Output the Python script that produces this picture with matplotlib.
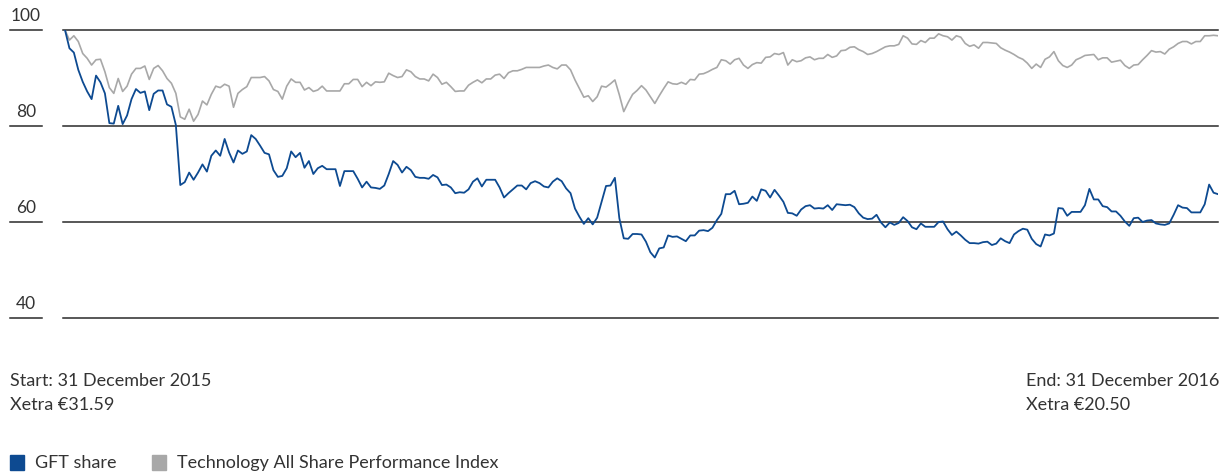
import matplotlib.pyplot as plt
from matplotlib.lines import Line2D
from matplotlib.patches import Rectangle

# Indexed performance, 31 Dec 2015 = 100 (roughly one value per trading day)
gft_share = [
    100.0, 96.2, 95.3, 91.7, 89.2, 87.2, 85.6, 90.5, 89.1, 86.8, 80.6, 80.5, 84.2, 80.4, 82.2,
    85.6, 87.7, 86.9, 87.2, 83.3, 86.7, 87.4, 87.4, 84.5, 84.0, 80.2, 67.7, 68.3, 70.3, 68.8,
    70.3, 72.0, 70.5, 73.8, 74.9, 73.8, 77.3, 74.5,
    72.4, 74.9, 74.2, 74.7, 78.1, 77.3, 75.9, 74.4, 74.1, 70.8, 69.4, 69.6, 71.2, 74.7, 73.5,
    74.4, 71.3, 72.7, 70.0, 71.2, 71.7, 71.0, 71.0, 71.0, 67.5, 70.6, 70.6, 70.6, 69.0, 67.2,
    68.4, 67.2, 67.1, 66.9, 67.6, 70.0, 72.7,
    71.9, 70.3, 71.5, 70.8, 69.4, 69.2, 69.2, 69.0, 69.8, 69.3, 67.7, 67.8, 67.2, 66.0, 66.2,
    66.1, 66.8, 68.4, 69.1, 67.4, 68.8, 68.8, 68.8, 67.2, 65.1, 66.0, 66.8, 67.6, 67.6, 66.8,
    68.1, 68.5, 68.1, 67.4, 67.2, 68.4, 69.1,
    68.5, 67.0, 66.0, 62.8, 61.1, 59.6, 60.8, 59.5, 60.9, 64.2, 67.5, 67.6, 69.2, 60.8, 56.6,
    56.5, 57.5, 57.5, 57.4, 55.9, 53.7, 52.6, 54.5, 54.7, 57.2, 56.9, 57.0, 56.5, 56.0, 57.2,
    57.2, 58.2, 58.3, 58.1, 58.8, 60.4, 61.7,
    65.8, 65.8, 66.5, 63.7, 63.8, 64.0, 65.3, 64.4, 66.8, 66.5, 65.1, 66.7, 65.5, 64.2, 61.9,
    61.8, 61.3, 62.6, 63.3, 63.5, 62.8, 62.9, 62.8, 63.5, 62.5, 63.7, 63.6, 63.5, 63.6, 63.1,
    61.8, 60.9, 60.6, 60.7, 61.5, 59.9, 58.9, 59.9,
    59.4, 59.8, 61.0, 60.2, 58.9, 58.5, 59.7, 59.0, 59.0, 59.0, 60.0, 60.1, 58.5, 57.3, 58.0,
    57.2, 56.3, 55.6, 55.6, 55.5, 55.8, 55.9, 55.2, 55.5, 56.6, 56.0, 55.6, 57.4, 58.1, 58.6,
    58.4, 56.5, 55.4, 54.9, 57.4, 57.2, 57.6,
    62.9, 62.8, 61.3, 62.1, 62.1, 62.1, 63.5, 66.9, 64.7, 64.7, 63.3, 63.1, 62.2, 62.2, 61.3,
    60.1, 59.2, 60.8, 60.9, 60.0, 60.3, 60.4, 59.7, 59.5, 59.4, 59.7, 61.5, 63.5, 63.0, 62.9,
    62.0, 62.0, 62.0, 63.7, 67.8, 66.1, 65.8,
]
tech_index = [
    100.0, 97.9, 98.8, 97.6, 95.1, 94.1, 92.7, 93.8, 93.9, 91.3, 88.0, 86.8, 89.9, 87.2, 88.3,
    90.8, 92.0, 92.0, 92.5, 89.7, 92.0, 92.6, 91.5, 89.9, 88.9, 86.8, 81.9, 81.4, 83.5, 81.0,
    82.4, 85.2, 84.4, 86.6, 88.3, 88.0, 88.7, 88.3,
    83.9, 86.8, 87.6, 88.2, 90.1, 90.1, 90.1, 90.3, 89.4, 87.6, 87.2, 85.6, 88.3, 89.8, 89.1,
    89.1, 87.5, 88.0, 87.2, 87.5, 88.3, 87.3, 87.3, 87.3, 87.3, 88.8, 88.8, 89.7, 89.7, 88.2,
    89.1, 88.4, 89.2, 89.1, 89.2, 91.0, 90.5,
    90.1, 90.3, 91.7, 91.3, 90.3, 89.8, 89.8, 89.4, 90.8, 90.1, 88.7, 89.1, 88.2, 87.2, 87.3,
    87.3, 88.5, 89.1, 89.6, 89.0, 89.8, 89.8, 90.6, 90.8, 89.9, 91.1, 91.5, 91.5, 91.8, 92.2,
    92.2, 92.2, 92.2, 92.5, 92.7, 92.2, 91.9,
    92.7, 92.7, 91.7, 89.6, 87.8, 86.0, 86.3, 85.1, 86.1, 88.3, 88.1, 88.8, 89.6, 86.5, 83.0,
    84.9, 86.6, 87.4, 88.4, 87.5, 86.1, 84.7, 86.3, 87.8, 89.2, 88.8, 88.7, 89.1, 88.7, 89.7,
    89.6, 90.8, 90.9, 91.3, 91.8, 92.2, 93.8,
    93.6, 92.9, 93.8, 94.1, 92.7, 92.0, 92.8, 93.2, 93.1, 94.3, 94.4, 95.1, 94.9, 95.3, 92.7,
    93.8, 93.4, 93.6, 94.2, 94.4, 93.8, 94.1, 94.1, 94.9, 94.3, 94.6, 95.7, 95.8, 96.4, 96.5,
    95.9, 95.5, 94.9, 95.1, 95.5, 96.0, 96.5, 96.7,
    96.7, 97.0, 98.8, 98.3, 97.1, 97.0, 97.8, 97.4, 98.3, 98.3, 99.2, 98.8, 98.6, 97.9, 98.8,
    98.5, 97.2, 96.6, 96.9, 96.2, 97.4, 97.4, 97.3, 97.2, 96.3, 95.8, 95.4, 94.9, 94.3, 93.9,
    93.1, 92.0, 92.9, 92.2, 93.9, 94.4, 95.5,
    93.6, 92.6, 92.2, 92.7, 93.8, 94.2, 94.7, 94.8, 94.9, 93.8, 94.2, 94.2, 93.3, 93.5, 93.7,
    92.6, 92.0, 92.7, 92.8, 93.8, 94.7, 95.7, 95.4, 95.5, 95.0, 96.0, 96.5, 97.2, 97.6, 97.6,
    97.1, 97.6, 97.6, 98.8, 98.8, 98.9, 98.8,
]
y_ticks = [100, 80, 60, 40]
series_names = ["GFT share", "Technology All Share Performance Index"]
start_note = ["Start: 31 December 2015", "Xetra €31.59"]
end_note = ["End: 31 December 2016", "Xetra €20.50"]

BLUE = "#0d4a91"
GREY = "#a8a8a8"
TEXT = "#333333"
RULE = "#2a2a2a"

plt.rcParams['font.family'] = ['Lato', 'DejaVu Sans']

W, H = 1224, 474
fig = plt.figure(figsize=(W / 100, H / 100), dpi=100)

# plot area: x 63..1218 px, y 100 -> 30 px, 40 -> 318 px
ax = fig.add_axes([63 / W, (H - 318) / H, (1218 - 63) / W, (318 - 30) / H])
ax.set_ylim(40, 100)
days = range(len(gft_share))
ax.set_xlim(-0.45, len(gft_share) - 1)
for s in ax.spines.values():
    s.set_visible(False)
ax.set_xticks([])
ax.set_yticks([])

for v in y_ticks:
    ax.axhline(v, color=RULE, lw=1.1, clip_on=False, zorder=1)
    # short rule + label on the left
    yf = ax.transData.transform((0, v))[1] / H
    fig.add_artist(Line2D([10 / W, 42 / W], [yf, yf], color=RULE, lw=1.1))
    fig.text(26 / W, yf + 14 / H, str(v), ha="center", va="center",
             fontsize=12.5, color=TEXT)

ax.plot(days, tech_index, color=GREY, lw=1.2, zorder=2)
ax.plot(days, gft_share, color=BLUE, lw=1.3, zorder=3)

# start / end notes
for i, line in enumerate(start_note):
    fig.text(10 / W, 1 - (381 + i * 24) / H, line, ha="left", va="center",
             fontsize=13, color=TEXT)
for i, line in enumerate(end_note):
    fig.text(1026 / W, 1 - (381 + i * 24) / H, line, ha="left", va="center",
             fontsize=13, color=TEXT)

# legend
for color, name, x0 in zip([BLUE, GREY], series_names, [10, 152]):
    fig.add_artist(Rectangle((x0 / W, 1 - 470 / H), 14 / W, 15 / H,
                             color=color, transform=fig.transFigure))
    fig.text((x0 + 25) / W, 1 - 463 / H, name, ha="left", va="center",
             fontsize=13, color=TEXT)

fig.savefig("out.png", dpi=100)
